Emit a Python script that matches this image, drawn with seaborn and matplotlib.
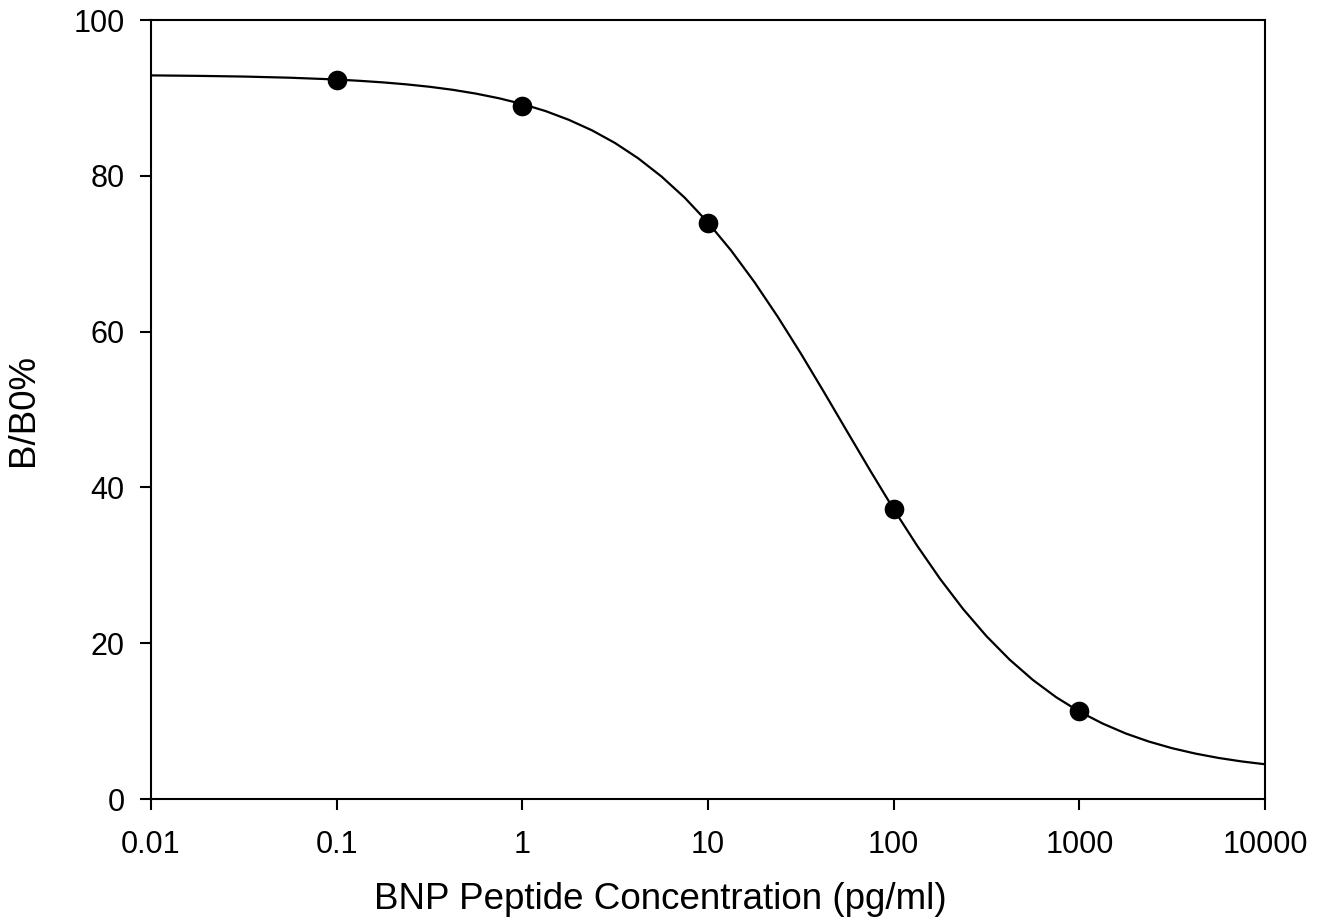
import numpy as np
import pandas as pd
import matplotlib
matplotlib.use("Agg")
import matplotlib.pyplot as plt
import seaborn as sns
from matplotlib.ticker import FixedLocator, FixedFormatter, NullLocator

# Measured standard points
conc = [0.1, 1, 10, 100, 1000]
b_b0 = [92.3, 89.0, 74.0, 37.2, 11.3]

# Fitted curve
curve_x = [0.01, 0.01778, 0.03162, 0.05623, 0.1, 0.1334, 0.1778, 0.2371,
           0.3162, 0.4217, 0.5623, 0.7499, 1, 1.334, 1.778, 2.371, 3.162,
           4.217, 5.623, 7.499, 10, 13.34, 17.78, 23.71, 31.62, 42.17, 56.23,
           74.99, 100, 133.4, 177.8, 237.1, 316.2, 421.7, 562.3, 749.9, 1000,
           1334, 1778, 2371, 3162, 4217, 5623, 7499, 10000]
curve_y = [92.89, 92.83, 92.74, 92.59, 92.36, 92.19, 91.99, 91.74, 91.43,
           91.04, 90.55, 89.95, 89.21, 88.31, 87.19, 85.84, 84.20, 82.23,
           79.90, 77.18, 74.00, 70.39, 66.36, 61.93, 57.19, 52.22, 47.15,
           42.11, 37.20, 32.56, 28.26, 24.36, 20.90, 17.88, 15.28, 13.07,
           11.22, 9.69, 8.41, 7.37, 6.52, 5.83, 5.27, 4.82, 4.46]

x_ticks = [0.01, 0.1, 1, 10, 100, 1000, 10000]
x_tick_labels = ["0.01", "0.1", "1", "10", "100", "1000", "10000"]
y_ticks = [0, 20, 40, 60, 80, 100]

sns.set_style("ticks")
plt.rcParams["font.family"] = ["Liberation Sans", "DejaVu Sans"]

fig = plt.figure(figsize=(13.23, 9.22), dpi=100)
ax = fig.add_axes([151/1323, 1-799/922, (1265-151)/1323, (799-20)/922])

df_curve = pd.DataFrame({"x": curve_x, "y": curve_y})
df_pts = pd.DataFrame({"x": conc, "y": b_b0})

sns.lineplot(data=df_curve, x="x", y="y", ax=ax, color="black", linewidth=1.6,
             sort=False, estimator=None)
sns.scatterplot(data=df_pts, x="x", y="y", ax=ax, color="black", s=200,
                edgecolor="black", linewidth=0, zorder=3)

ax.set_xscale("log")
ax.set_xlim(0.01, 10000)
ax.set_ylim(0, 100)
ax.xaxis.set_major_locator(FixedLocator(x_ticks))
ax.xaxis.set_major_formatter(FixedFormatter(x_tick_labels))
ax.xaxis.set_minor_locator(NullLocator())
ax.set_yticks(y_ticks)

for s in ax.spines.values():
    s.set_visible(True)
    s.set_linewidth(1.5)
    s.set_color("black")

ax.tick_params(axis="both", direction="out", length=8, width=1.5,
               colors="black", top=False, right=False)
ax.tick_params(axis="x", pad=14)
ax.tick_params(axis="y", pad=11)
for lab in ax.get_xticklabels() + ax.get_yticklabels():
    lab.set_fontsize(22)
    lab.set_color("black")

ax.set_xlabel("BNP Peptide Concentration (pg/ml)", fontsize=26.5, color="black")
ax.xaxis.label.set_verticalalignment("top")
ax.xaxis.set_label_coords((660 - 151) / 1114, -(882 - 799) / 779)
ax.set_ylabel("B/B0%", fontsize=26.5, labelpad=23, color="black")

fig.savefig("out.png", dpi=100, facecolor="white")
